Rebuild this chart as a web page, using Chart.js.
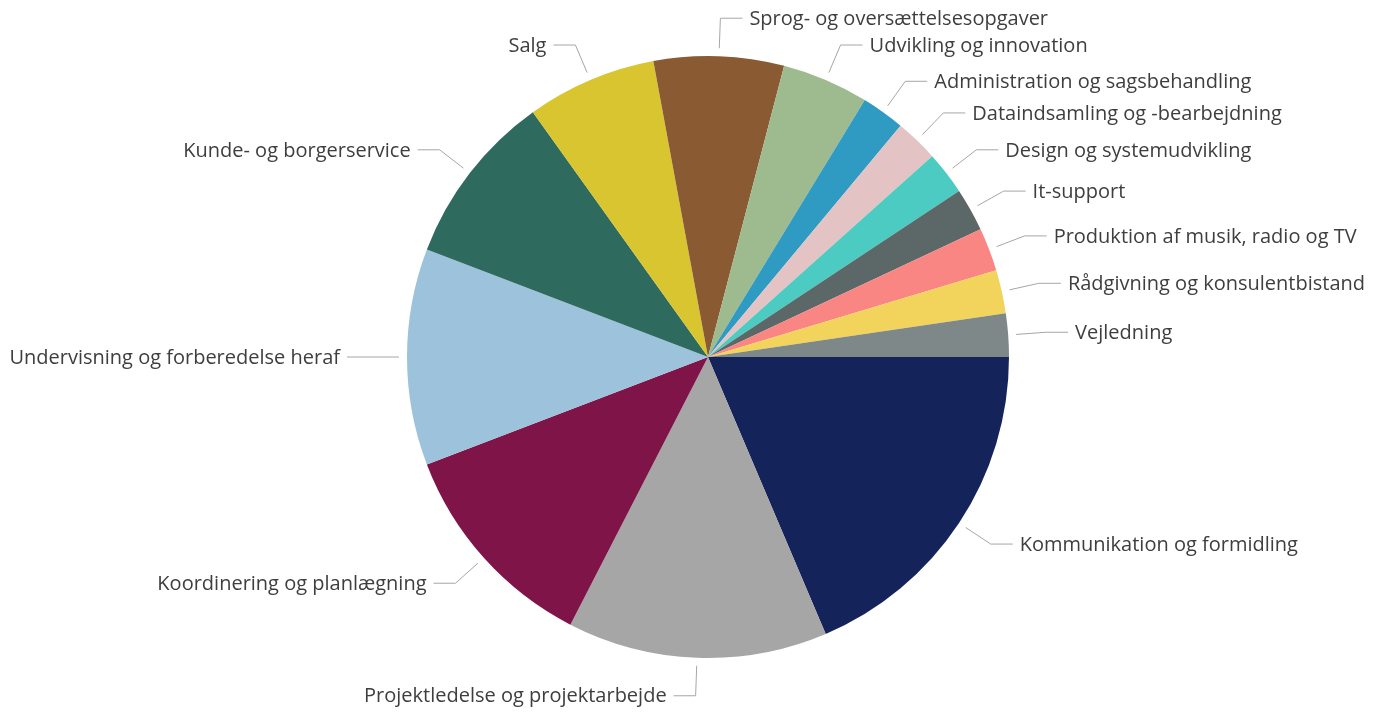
<!DOCTYPE html>
<html>
<head>
<meta charset="utf-8">
<script src="https://cdn.jsdelivr.net/npm/chart.js@4.4.1/dist/chart.umd.min.js"></script>
<style>
    html, body { margin: 0; padding: 0; background: #FFF; }
    #wrap { width: 1381px; height: 713px; position: relative; }
</style>
</head>
<body>
<div id="wrap"><canvas id="tasks-pie"></canvas></div>
<script>
// Arbejdsopgaver - antal svar pr. kategori
const categories = [
    'Kommunikation og formidling',
    'Projektledelse og projektarbejde',
    'Koordinering og planlægning',
    'Undervisning og forberedelse heraf',
    'Kunde- og borgerservice',
    'Salg',
    'Sprog- og oversættelsesopgaver',
    'Udvikling og innovation',
    'Administration og sagsbehandling',
    'Dataindsamling og -bearbejdning',
    'Design og systemudvikling',
    'It-support',
    'Produktion af musik, radio og TV',
    'Rådgivning og konsulentbistand',
    'Vejledning'
];

const counts = [8, 6, 5, 5, 4, 3, 3, 2, 1, 1, 1, 1, 1, 1, 1];

const sliceColors = [
    '#14245A', '#A6A6A6', '#7E1448', '#9DC3DC', '#2E6B5E',
    '#D9C52F', '#8A5A33', '#9EBB8F', '#2F9AC2', '#E3C3C3',
    '#4BCBC1', '#5C6868', '#F98683', '#F2D35C', '#7E8888'
];

let ctx = document.getElementById('tasks-pie').getContext('2d');

// leader lines + labels outside the pie
const outsideLabels = {
    id: 'outsideLabels',
    afterDatasetsDraw(chart) {
        const {ctx} = chart;
        const meta = chart.getDatasetMeta(0);
        ctx.save();
        ctx.font = '20px "Open Sans", sans-serif';
        ctx.textBaseline = 'middle';
        meta.data.forEach((arc, i) => {
            const mid = (arc.startAngle + arc.endAngle) / 2;
            const cos = Math.cos(mid), sin = Math.sin(mid);
            const r = arc.outerRadius;
            const x0 = arc.x + (r + 8) * cos, y0 = arc.y + (r + 8) * sin;
            const x1 = arc.x + (r + 38) * cos, y1 = arc.y + (r + 38) * sin;
            const dir = cos >= -0.01 ? 1 : -1;
            const x2 = x1 + dir * 22;

            ctx.strokeStyle = '#A6A6A6';
            ctx.lineWidth = 1;
            ctx.beginPath();
            ctx.moveTo(x0, y0);
            ctx.lineTo(x1, y1);
            ctx.lineTo(x2, y1);
            ctx.stroke();

            ctx.fillStyle = '#3E3E3E';
            ctx.textAlign = dir > 0 ? 'left' : 'right';
            ctx.fillText(chart.data.labels[i], x2 + dir * 7, y1 + 1);
        });
        ctx.restore();
    }
};

const config = {
    type: 'pie',
    data: {
        labels: categories,
        datasets: [{
            data: counts,
            backgroundColor: sliceColors,
            borderWidth: 0,
            hoverOffset: 0
        }]
    },
    options: {
        responsive: true,
        maintainAspectRatio: false,
        animation: false,
        rotation: 90,
        layout: {
            padding: { left: 407, right: 372, top: 56, bottom: 55 }
        },
        plugins: {
            legend: { display: false },
            tooltip: { enabled: false }
        }
    },
    plugins: [outsideLabels]
};

let myChart = new Chart(ctx, config);
</script>
</body>
</html>
